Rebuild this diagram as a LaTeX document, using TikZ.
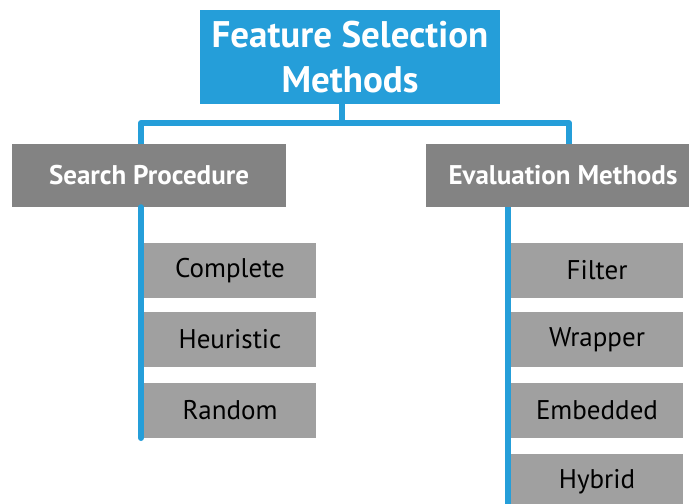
\documentclass[tikz,border=0pt]{standalone}
\usepackage{fontspec}
\setmainfont{PT Sans}
\usetikzlibrary{calc}
\definecolor{fsblue}{RGB}{37,158,217}
\definecolor{hdgray}{RGB}{131,131,131}
\definecolor{chgray}{RGB}{160,160,160}
\begin{document}
\begin{tikzpicture}[x=1pt,y=-1pt,
  titlebox/.style={fill=fsblue,text=white,minimum width=300pt,minimum height=94pt,inner sep=0pt,align=center,font=\fontsize{37}{45}\selectfont\bfseries},
  headbox/.style={fill=hdgray,text=white,minimum width=274pt,minimum height=63pt,inner sep=0pt,font=\fontsize{27}{30}\selectfont\bfseries},
  childbox/.style={fill=chgray,text=black,minimum width=172pt,minimum height=55pt,inner sep=0pt,font=\fontsize{27}{30}\selectfont},
  conn/.style={draw=fsblue,line width=6pt},
]
\useasboundingbox (0,0) rectangle (689,504);
\begin{scope}
\clip (0,0) rectangle (689,504);
% junction and end points of the connectors
\coordinate (j) at (342,123);
\coordinate (lx) at (141,0);
\coordinate (rx) at (569,0);
\coordinate (lv) at (141,438);
\coordinate (rv) at (508,520);
\node[titlebox] (title) at (350,57) {Feature Selection\\Methods};
\node[headbox] (sp) at (149,175.5) {Search Procedure};
\node[headbox] (em) at (563,175.5) {Evaluation Methods};
\draw[conn] (title.south -| j) -- (j);
\draw[conn,line join=round] (sp.north -| lx) |- (j) -| (em.north -| rx);
\draw[conn,line cap=round] (sp.south -| lv) -- (lv);
\draw[conn] (em.south -| rv) -- (rv);
% children
\node[childbox] (c1) at (230,270.5) {Complete};
\node[childbox] (c2) at (230,339.5) {Heuristic};
\node[childbox] (c3) at (230,410.5) {Random};
\node[childbox] (e1) at (597,270.5) {Filter};
\node[childbox] (e2) at (597,339.5) {Wrapper};
\node[childbox] (e3) at (597,410.5) {Embedded};
\node[childbox] (e4) at (597,481.5) {Hybrid};
\end{scope}
\end{tikzpicture}
\end{document}
